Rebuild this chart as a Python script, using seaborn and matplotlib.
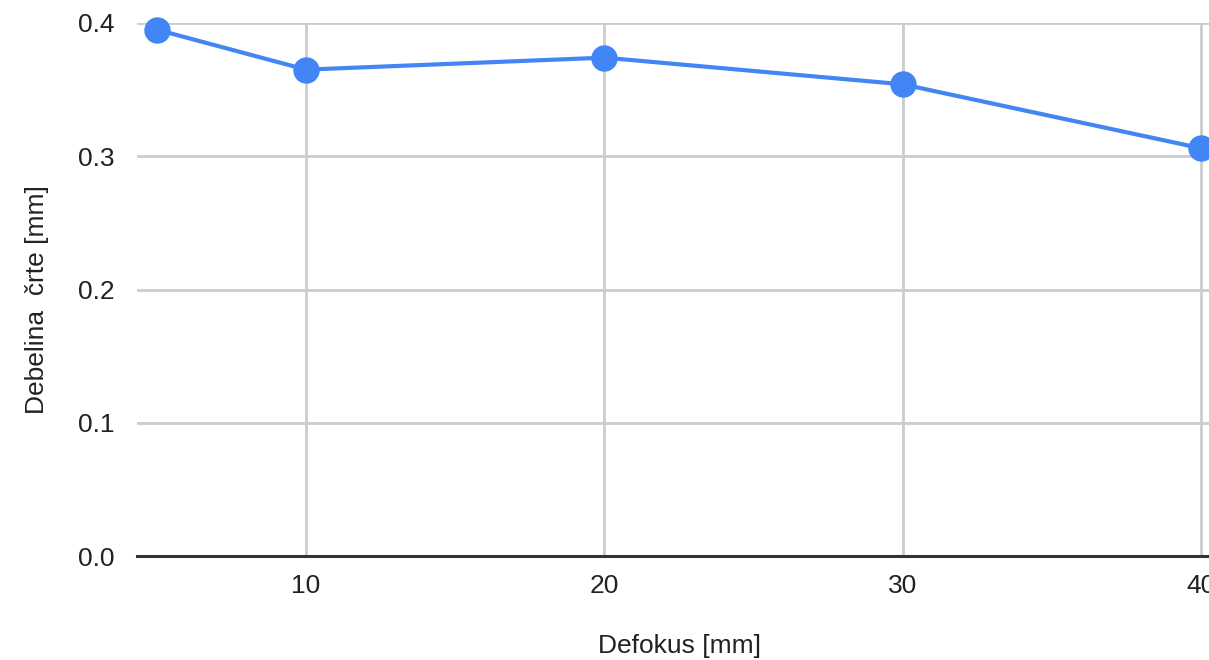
import matplotlib
matplotlib.use("Agg")
import matplotlib.pyplot as plt
import seaborn as sns
import pandas as pd

defokus = [5, 10, 20, 30, 40]
debelina = [0.395, 0.365, 0.374, 0.354, 0.306]
x_ticks = [10, 20, 30, 40]
y_ticks = [0.0, 0.1, 0.2, 0.3, 0.4]

sns.set_theme(style="white")
plt.rcParams['font.family'] = ['Liberation Sans', 'DejaVu Sans']

df = pd.DataFrame({"x": defokus, "y": debelina})

W, H = 1209, 660
fig = plt.figure(figsize=(W / 100, H / 100), dpi=100)
left, right, top, bottom = 137, 1209, 23, 556
ax = fig.add_axes([left / W, 1 - bottom / H, (right - left) / W, (bottom - top) / H])

px_per_unit = (1201 - 306) / 30.0
xmin = 10 - (306 - left) / px_per_unit
xmax = 10 + (right - 306) / px_per_unit
ax.set_xlim(xmin, xmax)
ax.set_ylim(0, 0.4)

ax.set_xticks(x_ticks)
ax.set_yticks(y_ticks)
ax.set_yticklabels([f"{v:.1f}" for v in y_ticks])
ax.grid(True, color="#cccccc", linewidth=2)
ax.set_axisbelow(True)

sns.lineplot(data=df, x="x", y="y", ax=ax, color="#4285F4", linewidth=3,
             marker="o", markersize=19, markeredgewidth=0, clip_on=False, zorder=5)

for s in ["top", "right", "left"]:
    ax.spines[s].set_visible(False)
ax.spines["bottom"].set_color("#333333")
ax.spines["bottom"].set_linewidth(2.2)
ax.spines["bottom"].set_zorder(6)

ax.tick_params(axis="both", length=0, labelsize=19, colors="#222222")
ax.tick_params(axis="y", pad=16)
ax.tick_params(axis="x", pad=13)

ax.set_xlabel("Defokus [mm]", fontsize=19, color="#222222")
ax.set_ylabel("Debelina  črte [mm]", fontsize=19, color="#222222")
ax.xaxis.set_label_coords((680 - left) / (right - left), -(634 - bottom) / (bottom - top))
ax.yaxis.set_label_coords(-(left - 49) / (right - left), (bottom - 300) / (bottom - top))

fig.savefig("out.png", dpi=100)
